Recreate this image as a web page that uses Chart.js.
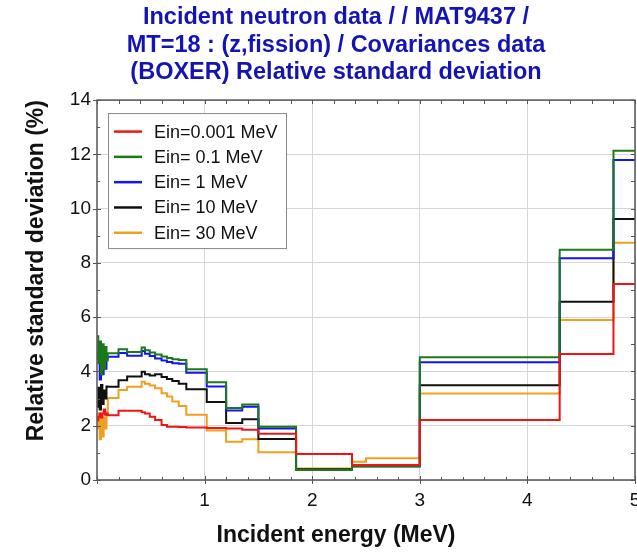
<!DOCTYPE html>
<html>
<head>
<meta charset="utf-8">
<title>Relative standard deviation</title>
<script src="https://cdn.jsdelivr.net/npm/chart.js@4.4.1/dist/chart.umd.min.js"></script>
<style>
  html, body { margin: 0; padding: 0; background: #fff; overflow: hidden; }
  #wrap { width: 672px; height: 552px; }
</style>
</head>
<body>
<div id="wrap"><canvas id="chartRsd" width="672" height="552"></canvas></div>
<script>
// step boundaries (MeV) - each value holds from its energy up to the next one
const energyGrid = [0.001, 0.012, 0.025, 0.037, 0.05, 0.062, 0.075, 0.088, 0.1, 0.2, 0.28,
  0.415, 0.445, 0.49, 0.54, 0.6, 0.65, 0.7, 0.76, 0.83, 1.02, 1.2, 1.35, 1.5, 1.85, 2.37, 2.5,
  3.0, 4.3, 4.8, 5.0];

const seriesLabels = ['Ein=0.001 MeV', 'Ein= 0.1 MeV', 'Ein= 1 MeV', 'Ein= 10 MeV', 'Ein= 30 MeV'];
const seriesColors = ['#f01414', '#1a7a1a', '#1414f0', '#101010', '#f0a020'];

const rsdEin0001 = [2.2, 2.33, 2.45, 2.3, 2.45, 2.6, 2.4, 2.45, 2.39, 2.55, 2.55, 2.5, 2.45, 2.33,
  2.21, 2.03, 1.96, 1.96, 1.95, 1.93, 1.92, 1.9, 1.85, 1.7, 0.96, 0.55, 0.55, 2.21, 4.64, 7.22, 7.22];
const rsdEin01 = [5.3, 4.3, 5.1, 3.9, 5.0, 4.1, 4.9, 4.4, 4.67, 4.82, 4.72, 4.88, 4.78, 4.7,
  4.62, 4.55, 4.5, 4.45, 4.42, 4.08, 3.6, 2.65, 2.78, 1.96, 0.37, 0.52, 0.52, 4.52, 8.48, 12.13, 12.13];
const rsdEin1 = [4.5, 4.7, 3.7, 4.6, 3.9, 4.6, 4.1, 4.5, 4.54, 4.68, 4.58, 4.75, 4.65, 4.57,
  4.48, 4.4, 4.35, 4.3, 4.28, 3.95, 3.45, 2.56, 2.7, 1.9, 0.37, 0.52, 0.52, 4.34, 8.17, 11.79, 11.79];
const rsdEin10 = [2.7, 3.4, 2.6, 3.5, 2.8, 3.3, 3.0, 3.45, 3.44, 3.68, 3.81, 3.99, 3.9, 3.85,
  3.9, 3.8, 3.72, 3.65, 3.55, 3.34, 2.87, 2.1, 2.24, 1.51, 0.4, 0.5, 0.5, 3.49, 6.57, 9.62, 9.62];
const rsdEin30 = [1.9, 2.45, 1.5, 2.4, 1.6, 2.3, 1.9, 2.5, 3.02, 3.32, 3.44, 3.62, 3.55, 3.48,
  3.38, 3.2, 3.08, 2.89, 2.73, 2.4, 1.82, 1.41, 1.5, 1.02, 0.42, 0.67, 0.8, 3.19, 5.9, 8.74, 8.74];

const xTickValues = [1, 2, 3, 4, 5];
const yTickValues = [0, 2, 4, 6, 8, 10, 12, 14];

const FONT = "'Liberation Sans', Arial, sans-serif";

// ── frame with tick marks on all four sides ──
const framePlugin = {
  id: 'frame',
  afterDraw(chart) {
    const { ctx, chartArea: a, scales: { x, y } } = chart;
    ctx.save();
    ctx.strokeStyle = '#555';
    ctx.lineWidth = 1.5;
    ctx.strokeRect(a.left, a.top, a.right - a.left, a.bottom - a.top);
    ctx.lineWidth = 1;
    ctx.beginPath();
    for (let i = 0; i <= 25; i++) {
      const v = i * 0.2;
      const px = Math.round(x.getPixelForValue(v)) + 0.5;
      const major = i % 5 === 0;
      ctx.moveTo(px, a.bottom + (major ? 4 : 0));
      ctx.lineTo(px, a.bottom - (major ? 4 : 3));
      ctx.moveTo(px, a.top);
      ctx.lineTo(px, a.top + 4);
    }
    for (let v = 0; v <= 14; v++) {
      const py = Math.round(y.getPixelForValue(v)) + 0.5;
      const major = v % 2 === 0;
      ctx.moveTo(a.left - (major ? 4 : 0), py);
      ctx.lineTo(a.left + (major ? 4 : 3), py);
      ctx.moveTo(a.right, py);
      ctx.lineTo(a.right - 4, py);
    }
    ctx.stroke();
    ctx.restore();
  }
};

// ── boxed legend inside the plot, top-left ──
const legendBox = {
  id: 'legendBox',
  afterDraw(chart) {
    const { ctx, chartArea: a } = chart;
    const x0 = a.left + 11, y0 = a.top + 13, w = 178, h = 135, rowH = 25.3;
    ctx.save();
    ctx.fillStyle = '#fff';
    ctx.fillRect(x0, y0, w, h);
    ctx.strokeStyle = '#888';
    ctx.lineWidth = 1;
    ctx.strokeRect(x0 + 0.5, y0 + 0.5, w, h);
    ctx.font = '18px ' + FONT;
    ctx.textBaseline = 'middle';
    chart.data.datasets.forEach((ds, i) => {
      const cy = y0 + 18.5 + i * rowH;
      ctx.strokeStyle = ds.borderColor;
      ctx.lineWidth = 2.5;
      ctx.beginPath();
      ctx.moveTo(x0 + 6, cy);
      ctx.lineTo(x0 + 34, cy);
      ctx.stroke();
      ctx.fillStyle = '#111';
      ctx.fillText(ds.label, x0 + 46, cy + 1);
    });
    ctx.restore();
  }
};

const seriesValues = [rsdEin0001, rsdEin01, rsdEin1, rsdEin10, rsdEin30];

new Chart(document.getElementById('chartRsd'), {
  type: 'line',
  data: {
    datasets: seriesLabels.map((label, i) => ({
      label: label,
      data: energyGrid.map((e, k) => ({ x: e, y: seriesValues[i][k] })),
      borderColor: seriesColors[i],
      backgroundColor: seriesColors[i],
      borderWidth: 2,
      stepped: 'before',
      pointRadius: 0,
      fill: false
    }))
  },
  options: {
    responsive: false,
    animation: false,
    devicePixelRatio: 1,
    layout: { padding: 0 },
    plugins: {
      legend: { display: false },
      tooltip: { enabled: false },
      title: {
        display: true,
        text: ['Incident neutron data / / MAT9437 /',
               'MT=18 : (z,fission) / Covariances data',
               '(BOXER) Relative standard deviation'],
        color: '#1414b4',
        font: { family: FONT, size: 23.5, weight: 'bold', lineHeight: 1.15 },
        padding: { top: 4.5, bottom: 14.5 }
      },
      subtitle: {
        display: true,
        position: 'bottom',
        text: 'Incident energy (MeV)',
        color: '#111',
        font: { family: FONT, size: 23, weight: 'bold', lineHeight: 1.2 },
        padding: { top: 9.4, bottom: 3 }
      }
    },
    scales: {
      x: {
        type: 'linear',
        min: 0,
        max: 5,
        afterBuildTicks: s => { s.ticks = xTickValues.map(v => ({ value: v })); },
        afterFit: s => { s.height = 32; },
        border: { display: false },
        grid: { color: '#d6d6d6', lineWidth: 1, drawTicks: false },
        ticks: { color: '#111', padding: 9, maxRotation: 0, font: { family: FONT, size: 19 } }
      },
      y: {
        min: 0,
        max: 14,
        afterBuildTicks: s => { s.ticks = yTickValues.map(v => ({ value: v })); },
        afterFit: s => { s.width = 97; },
        border: { display: false },
        grid: { color: '#d6d6d6', lineWidth: 1, drawTicks: false },
        ticks: { color: '#111', padding: 6, font: { family: FONT, size: 19 } },
        title: {
          display: true,
          text: 'Relative standard deviation (%)',
          align: 'end',
          color: '#111',
          font: { family: FONT, size: 23, weight: 'bold', lineHeight: 1.2 },
          padding: { top: 23, bottom: 0 }
        }
      },
      // empty right-hand box: keeps the plot edge at the crop line while titles stay centred on the full figure
      yRight: {
        position: 'right',
        display: true,
        afterFit: s => { s.width = 37; },
        border: { display: false },
        grid: { display: false, drawTicks: false },
        ticks: { display: false }
      }
    }
  },
  plugins: [framePlugin, legendBox]
});
</script>
</body>
</html>
